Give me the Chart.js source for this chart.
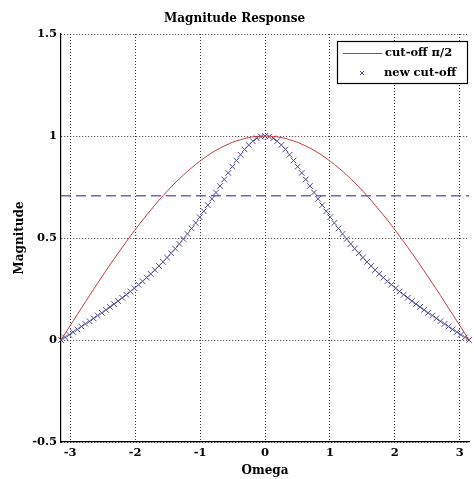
<!DOCTYPE html>
<html>
<head>
<meta charset="utf-8">
<script src="https://cdn.jsdelivr.net/npm/chart.js@4/dist/chart.umd.min.js"></script>
<style>
html,body{margin:0;padding:0;background:#fff;}
canvas{display:block;}
</style>
</head>
<body>
<canvas id="c" width="474" height="479"></canvas>
<script>
const omega = [-3.142,-3.079,-3.016,-2.953,-2.890,-2.827,-2.765,-2.702,-2.639,-2.576,-2.513,-2.450,-2.388,-2.325,-2.262,-2.199,-2.136,-2.073,-2.011,-1.948,-1.885,-1.822,-1.759,-1.696,-1.634,-1.571,-1.508,-1.445,-1.382,-1.319,-1.257,-1.194,-1.131,-1.068,-1.005,-0.942,-0.880,-0.817,-0.754,-0.691,-0.628,-0.565,-0.503,-0.440,-0.377,-0.314,-0.251,-0.188,-0.126,-0.063,0.000,0.063,0.126,0.188,0.251,0.314,0.377,0.440,0.503,0.565,0.628,0.691,0.754,0.817,0.880,0.942,1.005,1.068,1.131,1.194,1.257,1.319,1.382,1.445,1.508,1.571,1.634,1.696,1.759,1.822,1.885,1.948,2.011,2.073,2.136,2.199,2.262,2.325,2.388,2.450,2.513,2.576,2.639,2.702,2.765,2.827,2.890,2.953,3.016,3.079,3.142];

const cutoffHalfPi = [0.000,0.031,0.063,0.094,0.125,0.156,0.187,0.218,0.249,0.279,0.309,0.339,0.368,0.397,0.426,0.454,0.482,0.509,0.536,0.562,0.588,0.613,0.637,0.661,0.685,0.707,0.729,0.750,0.771,0.790,0.809,0.827,0.844,0.861,0.876,0.891,0.905,0.918,0.930,0.941,0.951,0.960,0.969,0.976,0.982,0.988,0.992,0.996,0.998,0.999,1.000,0.999,0.998,0.996,0.992,0.988,0.982,0.976,0.969,0.960,0.951,0.941,0.930,0.918,0.905,0.891,0.876,0.861,0.844,0.827,0.809,0.790,0.771,0.750,0.729,0.707,0.685,0.661,0.637,0.613,0.588,0.562,0.536,0.509,0.482,0.454,0.426,0.397,0.368,0.339,0.309,0.279,0.249,0.218,0.187,0.156,0.125,0.094,0.063,0.031,0.000];

const newCutoff = [0.000,0.013,0.026,0.039,0.052,0.066,0.079,0.092,0.106,0.120,0.133,0.148,0.162,0.176,0.191,0.207,0.222,0.238,0.254,0.271,0.288,0.306,0.324,0.343,0.363,0.383,0.404,0.425,0.448,0.471,0.495,0.520,0.547,0.574,0.602,0.631,0.661,0.692,0.723,0.755,0.787,0.819,0.850,0.880,0.908,0.934,0.956,0.975,0.989,0.997,1.000,0.997,0.989,0.975,0.956,0.934,0.908,0.880,0.850,0.819,0.787,0.755,0.723,0.692,0.661,0.631,0.602,0.574,0.547,0.520,0.495,0.471,0.448,0.425,0.404,0.383,0.363,0.343,0.324,0.306,0.288,0.271,0.254,0.238,0.222,0.207,0.191,0.176,0.162,0.148,0.133,0.120,0.106,0.092,0.079,0.066,0.052,0.039,0.026,0.013,0.000];

const levelX = [-3.142, 3.142];
const levelY = [0.707, 0.707];

const xTicks = [-3,-2,-1,0,1,2,3];
const yTicks = [-0.5,0,0.5,1,1.5];

const labels = ['cut-off \u03c0/2', 'new cut-off'];
const titleText = 'Magnitude Response';
const xTitle = 'Omega';
const yTitle = 'Magnitude';

const FONT = "'DejaVu Serif', serif";
const RED = '#c83a3a';
const BLUE = '#4a4a96';
const DASH = '#6a6ab0';

const toPts = (xs, ys) => xs.map((x, i) => ({x, y: ys[i]}));

const boxLegend = {
  id: 'boxLegend',
  afterDraw(chart) {
    const ctx = chart.ctx;
    const x0 = 337, y0 = 41, w = 130, h = 42;
    ctx.save();
    ctx.fillStyle = '#fff';
    ctx.fillRect(x0, y0, w, h);
    ctx.strokeStyle = '#000';
    ctx.lineWidth = 1.2;
    ctx.strokeRect(x0 + 0.5, y0 + 0.5, w, h);
    ctx.lineWidth = 1;
    ctx.strokeStyle = RED;
    ctx.beginPath();
    ctx.moveTo(343, 53.5);
    ctx.lineTo(382, 53.5);
    ctx.stroke();
    ctx.strokeStyle = BLUE;
    ctx.beginPath();
    ctx.moveTo(360, 71); ctx.lineTo(364, 75);
    ctx.moveTo(364, 71); ctx.lineTo(360, 75);
    ctx.stroke();
    ctx.fillStyle = '#000';
    ctx.font = 'bold 11.5px ' + FONT;
    ctx.textBaseline = 'middle';
    ctx.textAlign = 'left';
    ctx.fillText(chart.data.datasets[0].label, 385, 53);
    ctx.fillText(chart.data.datasets[1].label, 384, 73);
    ctx.restore();
  }
};

new Chart(document.getElementById('c'), {
  type: 'scatter',
  data: {
    datasets: [
      {
        label: labels[0],
        data: toPts(omega, cutoffHalfPi),
        showLine: true,
        borderColor: RED,
        borderWidth: 1,
        pointRadius: 0,
        tension: 0
      },
      {
        label: labels[1],
        data: toPts(omega, newCutoff),
        showLine: false,
        pointStyle: 'crossRot',
        pointRadius: 4,
        pointBorderWidth: 1,
        borderColor: BLUE,
        backgroundColor: BLUE,
        clip: false
      },
      {
        label: 'level',
        data: toPts(levelX, levelY),
        showLine: true,
        borderColor: DASH,
        borderWidth: 1.5,
        borderDash: [10, 5],
        pointRadius: 0
      }
    ]
  },
  options: {
    responsive: false,
    animation: false,
    layout: { padding: { left: 0, right: 5, top: 0, bottom: 0 } },
    plugins: {
      legend: { display: false },
      tooltip: { enabled: false },
      title: {
        display: true,
        text: titleText,
        color: '#000',
        font: { family: FONT, size: 12, weight: 'bold' },
        padding: { top: 12, bottom: 7.6 }
      }
    },
    scales: {
      x: {
        type: 'linear',
        min: -3.1416,
        max: 3.1416,
        afterBuildTicks(scale) { scale.ticks = xTicks.map(v => ({value: v})); },
        afterFit(scale) { scale.height = 37; },
        ticks: {
          color: '#000',
          font: { family: FONT, size: 11.5, weight: 'bold' },
          padding: 4,
          callback: v => String(v)
        },
        grid: {
          color: '#333',
          lineWidth: 1,
          drawTicks: false
        },
        border: { display: true, color: '#000', width: 1.2, dash: [1, 2] },
        title: {
          display: true,
          text: xTitle,
          color: '#000',
          font: { family: FONT, size: 12, weight: 'bold' },
          padding: { top: 0, bottom: 1 }
        }
      },
      y: {
        type: 'linear',
        min: -0.5,
        max: 1.5,
        afterBuildTicks(scale) { scale.ticks = yTicks.map(v => ({value: v})); },
        afterFit(scale) { scale.width = 61; },
        ticks: {
          color: '#000',
          font: { family: FONT, size: 11.5, weight: 'bold' },
          padding: 4,
          callback: v => String(v)
        },
        grid: {
          color: '#333',
          lineWidth: 1,
          drawTicks: false
        },
        border: { display: true, color: '#000', width: 1.2, dash: [1, 2] },
        title: {
          display: true,
          text: yTitle,
          color: '#000',
          font: { family: FONT, size: 12, weight: 'bold' },
          padding: { top: 13, bottom: 0 }
        }
      }
    }
  },
  plugins: [boxLegend]
});
</script>
</body>
</html>
